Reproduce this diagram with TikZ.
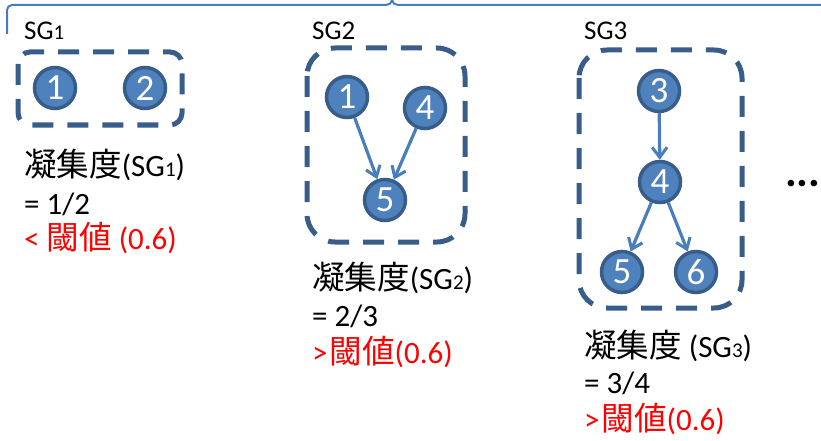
\documentclass[tikz,border=0pt]{standalone}
\usepackage{fontspec}
\setmainfont{Carlito}
\newfontfamily\cjk[Scale=1.05]{Noto Sans CJK JP}
\usetikzlibrary{arrows.meta}
\definecolor{nodefill}{HTML}{4F81BD}
\definecolor{nodeline}{HTML}{385D8A}
\definecolor{arrcol}{HTML}{4A7EBB}
\definecolor{redtxt}{HTML}{FF0000}
\newcommand{\smallsub}[1]{{\fontsize{21}{21}\selectfont #1}}
\tikzset{
  vtx/.style={circle, fill=nodefill, draw=nodeline, line width=3.5pt, minimum size=41pt, inner sep=0pt,
    text=white, font=\fontsize{37}{37}\selectfont},
  grp/.style={draw=nodeline, line width=5pt, dash pattern=on 21pt off 14pt},
  arr/.style={draw=arrcol, line width=3.2pt, -{Straight Barb[length=10pt,width=15pt,line width=3pt]}},
  txt/.style={anchor=base west, inner sep=0pt, font=\fontsize{31}{31}\selectfont},
  lbl/.style={anchor=base west, inner sep=0pt, font=\fontsize{27}{27}\selectfont},
}
\begin{document}
\begin{tikzpicture}[x=1pt,y=-1pt]
\useasboundingbox (0,0) rectangle (821,441);
% brace
\coordinate (b0) at (7,34);
\coordinate (b1) at (821,5);
\draw[arrcol, line width=2pt] (b0) -- (7,10) to[out=90,in=180] (12,5) -- (386,5) to[out=0,in=-90] (392,0)
  to[out=-90,in=180] (398,5) -- (b1);
% SG1
\node[lbl] (l1) at (24,40) {SG\smallsub{1}};
\draw[grp, rounded corners=12pt] (18,52) rectangle (182,125);
\node[vtx] (a1) at (55,88) {1};
\node[vtx] (a2) at (145,88) {2};
\node[txt] (t11) at (24,176) {{\cjk 凝集度}(SG\smallsub{1})};
\node[txt] (t12) at (24,214) {= 1/2};
\node[txt, text=redtxt] (t13) at (24,249) {< {\cjk 閾値} (0.6)};
% SG2
\node[lbl] (l2) at (312,40) {SG2};
\draw[grp, rounded corners=28pt] (307,48) rectangle (465,242);
\node[vtx] (b1n) at (347,97) {1};
\node[vtx] (b4) at (425,108) {4};
\node[vtx] (b5) at (385,200) {5};
\draw[arr] (b1n) -- (b5);
\draw[arr] (b4) -- (b5);
\node[txt] (t21) at (312,289) {{\cjk 凝集度}(SG\smallsub{2})};
\node[txt] (t22) at (312,326) {= 2/3};
\node[txt, text=redtxt] (t23) at (312,363) {>\hspace{2pt}{\cjk 閾値}(0.6)};
% SG3
\node[lbl] (l3) at (584,40) {SG3};
\draw[grp, rounded corners=28pt] (579,50) rectangle (742,308);
\node[vtx] (c3) at (659,91) {3};
\node[vtx] (c4) at (660,182) {4};
\node[vtx] (c5) at (622,272) {5};
\node[vtx] (c6) at (696,272) {6};
\draw[arr] (c3) -- (c4);
\draw[arr] (c4) -- (c5);
\draw[arr] (c4) -- (c6);
\node[txt] (t31) at (584,357) {{\cjk 凝集度} (SG\smallsub{3})};
\node[txt] (t32) at (584,393) {= 3/4};
\node[txt, text=redtxt] (t33) at (584,430) {>\hspace{2pt}{\cjk 閾値}(0.6)};
% dots
\node[anchor=base west, inner sep=0pt, font=\fontsize{44}{44}\selectfont\bfseries] (dots) at (785,186) {...};
\end{tikzpicture}
\end{document}
